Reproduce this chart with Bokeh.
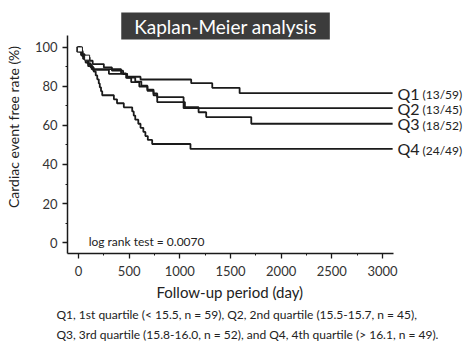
from bokeh.plotting import figure
from bokeh.models import Range1d, SingleIntervalTicker, Label, Title
from bokeh.embed import file_html
from bokeh.resources import INLINE

FONT = "Lato"
INK = "#1a1a1a"

# ---- data ----
q1_days = [0, 20, 40, 60, 110, 140, 250, 330, 440, 480, 612, 1112, 1320, 1590, 3100]
q1_surv = [100, 98.3, 96.6, 94.9, 93.2, 91.5, 89.8, 88.1, 86.4, 85.0, 83.6, 81.7, 79.3, 76.6, 76.6]

q2_days = [0, 15, 40, 70, 100, 130, 420, 470, 520, 600, 680, 740, 777, 1037, 3100]
q2_surv = [100, 97.8, 95.6, 93.3, 91.1, 88.9, 86.7, 84.4, 82.2, 80.0, 77.8, 75.5, 72.0, 68.9, 68.9]

q3_days = [0, 10, 25, 45, 70, 95, 140, 300, 480, 560, 620, 680, 740, 777, 1037, 1050, 1185, 1260, 1705, 3100]
q3_surv = [100, 98.1, 96.2, 94.2, 92.3, 90.4, 88.5, 86.5, 84.5, 82.5, 80.4, 78.4, 76.4, 74.5, 72.0, 69.4, 66.8, 64.3, 60.9, 60.9]

q4_days = [0, 10, 30, 60, 90, 120, 150, 170, 185, 200, 210, 222, 234, 349, 380, 447, 530, 545, 560, 590, 612, 640, 660, 684, 727, 1105, 3100]
q4_surv = [100, 98.0, 95.9, 93.9, 91.8, 89.8, 87.7, 85.7, 83.7, 81.6, 79.6, 77.6, 75.5, 73.4, 71.4, 69.3, 67.2, 65.1, 63.0, 60.9, 58.8, 56.7, 54.6, 52.6, 50.5, 48.0, 48.0]

series_names = ["Q1", "Q2", "Q3", "Q4"]
series_counts = ["(13/59)", "(13/45)", "(18/52)", "(24/49)"]

censor_days = [8, 14, 85]
censor_surv = [99.0, 99.0, 94.8]

footnote = [
    "Q1, 1st quartile (< 15.5, n = 59),  Q2, 2nd quartile (15.5-15.7, n = 45),",
    "Q3, 3rd quartile (15.8-16.0, n = 52), and Q4, 4th quartile (> 16.1, n = 49).",
]

x_axis_start, x_axis_end = -108.6, 3108.6
y_axis_start, y_axis_end = -5.64, 106.15

p = figure(width=474, height=355, output_backend="svg", toolbar_location=None,
           x_range=Range1d(-108.6, 3907.9), y_range=Range1d(-5.64, 124.1),
           min_border_left=67, min_border_right=0, min_border_top=0, min_border_bottom=102)
p.outline_line_color = None
p.xgrid.visible = False
p.ygrid.visible = False
p.background_fill_color = "white"
p.border_fill_color = "white"

for d, s in [(q1_days, q1_surv), (q2_days, q2_surv), (q3_days, q3_surv), (q4_days, q4_surv)]:
    p.step(d, s, mode="after", line_color=INK, line_width=1.8)

p.scatter(censor_days, censor_surv, marker="square", size=5, fill_color="white",
          line_color=INK, line_width=1)

# axes
for ax in (p.xaxis[0], p.yaxis[0]):
    ax.axis_line_color = INK
    ax.axis_line_width = 1.5
    ax.major_tick_line_color = INK
    ax.minor_tick_line_color = INK
    ax.major_tick_line_width = 1.3
    ax.major_tick_out = 5
    ax.major_tick_in = 0
    ax.minor_tick_out = 2
    ax.minor_tick_in = 0
    ax.major_label_text_font = FONT
    ax.major_label_text_font_size = "13px"
    ax.major_label_text_color = "#333333"
    ax.axis_label_text_font = FONT
    ax.axis_label_text_font_size = "14px"
    ax.axis_label_text_font_style = "normal"
    ax.axis_label_text_color = "#222222"

p.yaxis[0].bounds = (y_axis_start, y_axis_end)
p.xaxis[0].bounds = (x_axis_start, x_axis_end)
p.yaxis[0].ticker = SingleIntervalTicker(interval=20, num_minor_ticks=2)
p.xaxis[0].ticker = SingleIntervalTicker(interval=500, num_minor_ticks=2)
p.yaxis[0].axis_label = "Cardiac event free rate (%)"
p.yaxis[0].major_label_standoff = 5
p.xaxis[0].major_label_standoff = 7
p.yaxis[0].axis_label_standoff = 10

# curve labels
finals = [q1_surv[-1], q2_surv[-1], q3_surv[-1], q4_surv[-1]]
for name, cnt, yv in zip(series_names, series_counts, finals):
    p.add_layout(Label(x=3148, y=yv, text=name, text_font=FONT, text_font_size="16px",
                       text_color="#222222", text_baseline="middle", text_align="left"))
    p.add_layout(Label(x=3395, y=yv - 0.8, text=cnt, text_font=FONT, text_font_size="12px",
                       text_color="#222222", text_baseline="middle", text_align="left"))

# log rank
p.add_layout(Label(x=100, y=0.5, text="log rank test = 0.0070", text_font=FONT,
                   text_font_size="12px", text_color="#222222", text_baseline="middle"))

# title box
p.add_layout(Label(x=1451, y=111, text="Kaplan-Meier analysis", text_font=FONT,
                   text_font_size="19px", text_color="white", text_align="center",
                   text_baseline="middle", background_fill_color="#3c3c3c",
                   padding=(13, 2)))

def below_title(text, offset, size, standoff):
    t = Title(text=text, align="left", offset=offset, text_font=FONT,
              text_font_size=size, text_font_style="normal", text_color="#222222")
    try:
        t.standoff = standoff
    except Exception:
        pass
    p.add_layout(t, "below")

# x axis label as a left-anchored title so it sits under the axis, not the frame
below_title("Follow-up period (day)", 89, "15px", 4)
# footnote
below_title(footnote[0], -11, "12px", 5)
below_title(footnote[1], -11, "12px", 0)

open("out.html", "w").write(file_html(p, INLINE))
